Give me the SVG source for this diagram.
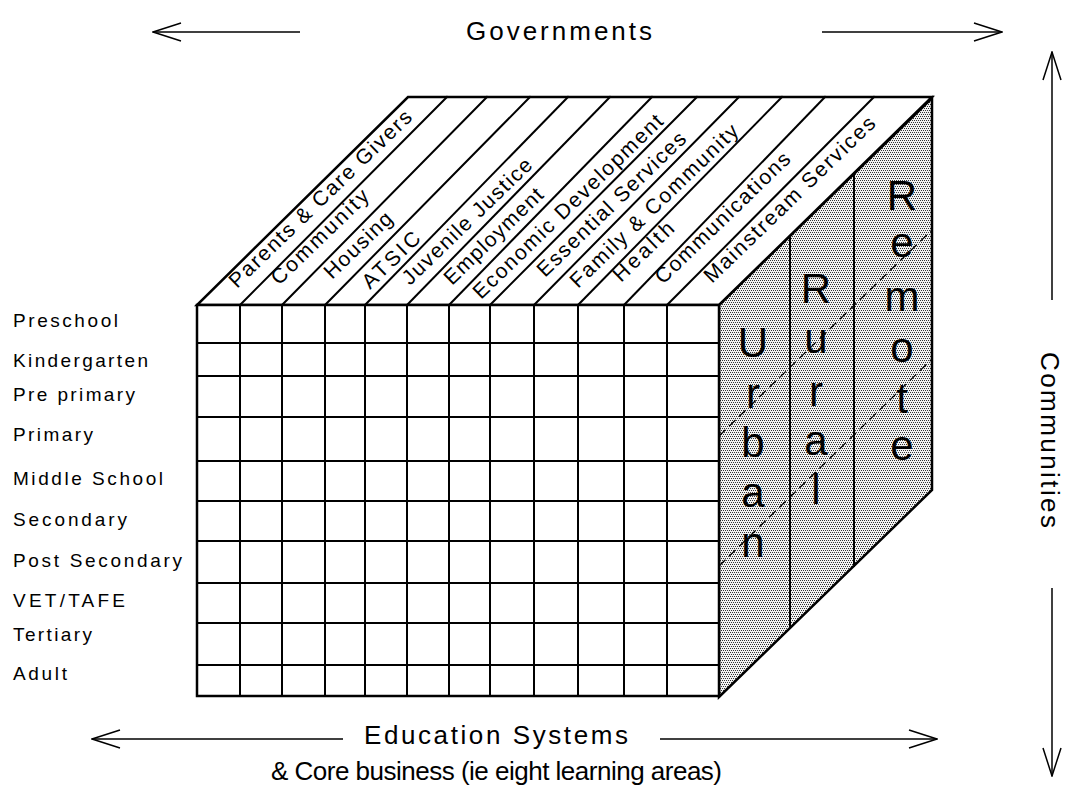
<svg xmlns="http://www.w3.org/2000/svg" width="1079" height="789" viewBox="0 0 1079 789">
<style>
text{font-family:"Liberation Sans",Arial,sans-serif;fill:#000}
.lbl{font-size:19px}
.top{font-size:21px}
.big{font-size:26px}
.urr{font-size:42px;text-anchor:middle}
.ln{stroke:#000;stroke-width:2;fill:none;stroke-linecap:square}
.edge{stroke:#000;stroke-width:2.5;fill:none;stroke-linejoin:miter}
.dash{stroke:#000;stroke-width:1.3;fill:none;stroke-dasharray:9 5}
.arr{stroke:#000;stroke-width:1.5;fill:none}
</style>
<defs>
<pattern id="stip" width="4" height="4" patternUnits="userSpaceOnUse">
<rect width="4" height="4" fill="#f2f2f2"/>
<rect x="0" y="0" width="1" height="1" fill="#333"/>
<rect x="2" y="0" width="1" height="1" fill="#333"/>
<rect x="1" y="2" width="1" height="1" fill="#333"/>
<rect x="3" y="2" width="1" height="1" fill="#333"/>
</pattern>
<marker id="ah" viewBox="0 0 30 20" refX="29" refY="10" markerWidth="30" markerHeight="20" markerUnits="userSpaceOnUse" orient="auto">
<path d="M1,1 L29,10 L1,19" fill="none" stroke="#000" stroke-width="1.5"/>
</marker>
</defs>
<rect width="1079" height="789" fill="#fff"/>

<g id="side-face">
<polygon points="719,305 932,98 932,490 719,697" fill="url(#stip)"/>
<line class="ln" x1="790" y1="236" x2="790" y2="628"/>
<line class="ln" x1="854" y1="174" x2="854" y2="566"/>
<line class="dash" x1="719" y1="436" x2="932" y2="230"/>
<line class="dash" x1="719" y1="566" x2="932" y2="359"/>
<text class="urr" x="753" y="357">U</text>
<text class="urr" x="753" y="408">r</text>
<text class="urr" x="753" y="457">b</text>
<text class="urr" x="753" y="507">a</text>
<text class="urr" x="753" y="557">n</text>
<text class="urr" x="816" y="303">R</text>
<text class="urr" x="816" y="353">u</text>
<text class="urr" x="816" y="406">r</text>
<text class="urr" x="816" y="455">a</text>
<text class="urr" x="816" y="504">l</text>
<text class="urr" x="902" y="210">R</text>
<text class="urr" x="902" y="257">e</text>
<text class="urr" x="902" y="311">m</text>
<text class="urr" x="902" y="362">o</text>
<text class="urr" x="902" y="413">t</text>
<text class="urr" x="902" y="460">e</text>
<polygon class="edge" points="719,305 932,98 932,490 719,697"/>
</g>

<g id="top-face">
<polygon points="197,305 719,305 932,97 408,97" fill="#fff"/>
<line class="ln" x1="240" y1="305" x2="447" y2="97"/>
<line class="ln" x1="282" y1="305" x2="487" y2="97"/>
<line class="ln" x1="325" y1="305" x2="530" y2="97"/>
<line class="ln" x1="365" y1="305" x2="568" y2="97"/>
<line class="ln" x1="407" y1="305" x2="610" y2="97"/>
<line class="ln" x1="449" y1="305" x2="652" y2="97"/>
<line class="ln" x1="490" y1="305" x2="697" y2="97"/>
<line class="ln" x1="534" y1="305" x2="739" y2="97"/>
<line class="ln" x1="578" y1="305" x2="782" y2="97"/>
<line class="ln" x1="624" y1="305" x2="825" y2="97"/>
<line class="ln" x1="667" y1="305" x2="874" y2="97"/>
<polygon class="edge" points="197,305 719,305 932,97 408,97"/>
<text class="top" transform="translate(237,289) rotate(-44)" textLength="245" lengthAdjust="spacing">Parents &amp; Care Givers</text>
<text class="top" transform="translate(279,286) rotate(-44)" textLength="127" lengthAdjust="spacing">Community</text>
<text class="top" transform="translate(332,280) rotate(-44)" textLength="86" lengthAdjust="spacing">Housing</text>
<text class="top" transform="translate(370,290) rotate(-44)" textLength="72" lengthAdjust="spacing">ATSIC</text>
<text class="top" transform="translate(410,286) rotate(-44)" textLength="172" lengthAdjust="spacing">Juvenile Justice</text>
<text class="top" transform="translate(452,286) rotate(-44)" textLength="129" lengthAdjust="spacing">Employment</text>
<text class="top" transform="translate(481,300) rotate(-44)" textLength="255" lengthAdjust="spacing">Economic Development</text>
<text class="top" transform="translate(545,278) rotate(-44)" textLength="198" lengthAdjust="spacing">Essential Services</text>
<text class="top" transform="translate(578,289) rotate(-44)" textLength="225" lengthAdjust="spacing">Family &amp; Community</text>
<text class="top" transform="translate(621,283) rotate(-44)" textLength="76" lengthAdjust="spacing">Health</text>
<text class="top" transform="translate(663,285) rotate(-44)" textLength="179" lengthAdjust="spacing">Communications</text>
<text class="top" transform="translate(712,284) rotate(-44)" textLength="229" lengthAdjust="spacing">Mainstream Services</text>
</g>

<g id="front-face">
<rect x="197" y="305" width="522" height="391" fill="#fff"/>
<path class="ln" d="M240,305V696M282,305V696M325,305V696M365,305V696M407,305V696M449,305V696M490,305V696M534,305V696M578,305V696M624,305V696M667,305V696"/>
<path class="ln" d="M197,343H719M197,376H719M197,417H719M197,461H719M197,501H719M197,541H719M197,583H719M197,623H719M197,665H719"/>
<rect class="edge" x="197" y="305" width="522" height="391"/>
</g>

<g id="row-labels">
<text class="lbl" x="13" y="327" textLength="105" lengthAdjust="spacing">Preschool</text>
<text class="lbl" x="13" y="367" textLength="135" lengthAdjust="spacing">Kindergarten</text>
<text class="lbl" x="13" y="401" textLength="122" lengthAdjust="spacing">Pre primary</text>
<text class="lbl" x="13" y="441" textLength="80" lengthAdjust="spacing">Primary</text>
<text class="lbl" x="13" y="485" textLength="150" lengthAdjust="spacing">Middle School</text>
<text class="lbl" x="13" y="526" textLength="114" lengthAdjust="spacing">Secondary</text>
<text class="lbl" x="13" y="567" textLength="169" lengthAdjust="spacing">Post Secondary</text>
<text class="lbl" x="13" y="607" textLength="112" lengthAdjust="spacing">VET/TAFE</text>
<text class="lbl" x="13" y="641" textLength="79" lengthAdjust="spacing">Tertiary</text>
<text class="lbl" x="13" y="680" textLength="54" lengthAdjust="spacing">Adult</text>
</g>

<g id="axis-labels">
<text class="big" x="466" y="40" textLength="186" lengthAdjust="spacing">Governments</text>
<text class="big" transform="translate(1041,352) rotate(90)" textLength="176" lengthAdjust="spacing">Communities</text>
<text class="big" x="364" y="744" textLength="264" lengthAdjust="spacing">Education Systems</text>
<text class="big" x="271" y="780" textLength="451" lengthAdjust="spacing">&amp; Core business (ie eight learning areas)</text>
</g>

<g id="connectors">
<line class="arr" x1="300" y1="32" x2="153" y2="32" marker-end="url(#ah)"/>
<line class="arr" x1="822" y1="32" x2="1002" y2="32" marker-end="url(#ah)"/>
<line class="arr" x1="1052" y1="300" x2="1052" y2="52" marker-end="url(#ah)"/>
<line class="arr" x1="1052" y1="588" x2="1052" y2="776" marker-end="url(#ah)"/>
<line class="arr" x1="343" y1="739" x2="92" y2="739" marker-end="url(#ah)"/>
<line class="arr" x1="660" y1="739" x2="937" y2="739" marker-end="url(#ah)"/>
</g>
</svg>
